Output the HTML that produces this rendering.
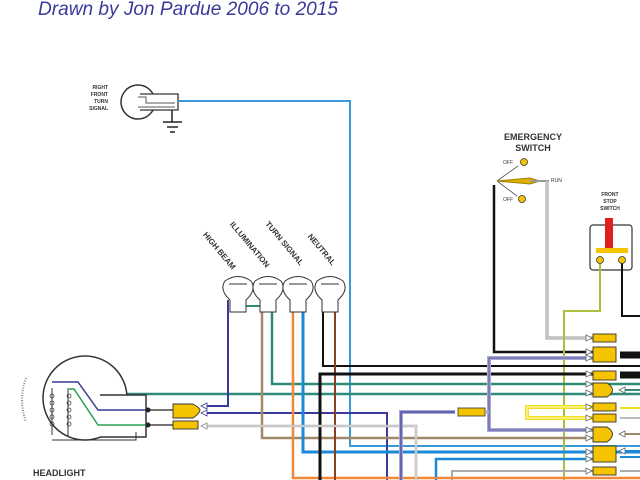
<!DOCTYPE html>
<html><head><meta charset="utf-8"><style>
html,body{margin:0;padding:0;background:#fff;width:640px;height:480px;overflow:hidden}
svg{display:block}
text{font-family:"Liberation Sans",sans-serif}
</style></head><body>
<svg width="640" height="480" viewBox="0 0 640 480" xmlns="http://www.w3.org/2000/svg">
<text x="38" y="15" font-size="19" font-style="italic" fill="#3a3a9a" textLength="300" lengthAdjust="spacingAndGlyphs">Drawn by Jon Pardue 2006 to 2015</text>

<!-- right front turn signal -->
<text font-size="5" font-weight="bold" fill="#333" text-anchor="end"><tspan x="108" y="89">RIGHT</tspan><tspan x="108" y="96">FRONT</tspan><tspan x="108" y="103">TURN</tspan><tspan x="108" y="110">SIGNAL</tspan></text>
<circle cx="138" cy="102" r="17" fill="#fff" stroke="#333" stroke-width="1.5"/>
<rect x="138" y="94" width="40" height="16" fill="#fff" stroke="none"/>
<path d="M140,94 H178 V110 H140" fill="none" stroke="#333" stroke-width="1.3"/>
<path d="M138,97 H146 V103 H175 M138,107 H175" fill="none" stroke="#555" stroke-width="1"/>
<path d="M172,110 V122 M163,122 H182 M167,127 H178 M170,132 H175" stroke="#222" stroke-width="1.5"/>
<path d="M178,101 H350 V446 H640" fill="none" stroke="#3a9ad8" stroke-width="2"/>

<!-- emergency switch -->
<text font-size="9" font-weight="bold" fill="#333" text-anchor="middle"><tspan x="533" y="140">EMERGENCY</tspan><tspan x="533" y="151">SWITCH</tspan></text>
<text font-size="5" fill="#333" x="503" y="164">OFF</text>
<text font-size="5" fill="#333" x="503" y="201">OFF</text>
<text font-size="5" fill="#333" x="551" y="182">RUN</text>
<circle cx="524" cy="162" r="3.5" fill="#f5c400" stroke="#333" stroke-width="0.8"/>
<circle cx="522" cy="199" r="3.5" fill="#f5c400" stroke="#333" stroke-width="0.8"/>
<path d="M497,181 L518,166 M497,181 L517,196" stroke="#555" stroke-width="0.8"/>
<path d="M497,181 L530,178 L540,181 L530,184 Z" fill="#e0b000" stroke="#a08000" stroke-width="1"/>
<path d="M530,181 H549" stroke="#999" stroke-width="2"/>
<path d="M547,181 V338 H593" fill="none" stroke="#999" stroke-width="3"/>
<path d="M547,181 V338 H593" fill="none" stroke="#eee" stroke-width="1"/>
<path d="M494,185 V352 H593" fill="none" stroke="#111" stroke-width="2.5"/>

<!-- front stop switch -->
<text font-size="5" font-weight="bold" fill="#333" text-anchor="middle"><tspan x="610" y="196">FRONT</tspan><tspan x="610" y="203">STOP</tspan><tspan x="610" y="210">SWITCH</tspan></text>
<rect x="590" y="225" width="42" height="45" rx="3" fill="#fff" stroke="#333" stroke-width="1.2"/>
<rect x="605" y="218" width="8" height="30" fill="#e02020"/>
<rect x="596" y="248" width="32" height="5" fill="#f5c400"/>
<path d="M600,262 V311 H564 V480" fill="none" stroke="#7ab040" stroke-width="2"/>
<path d="M600,262 V311 H564 V480" fill="none" stroke="#f0e040" stroke-width="0.7"/>
<path d="M622,262 V316 H640" fill="none" stroke="#111" stroke-width="2"/>
<circle cx="600" cy="260" r="3.5" fill="#f5c400" stroke="#333" stroke-width="0.8"/>
<circle cx="622" cy="260" r="3.5" fill="#f5c400" stroke="#333" stroke-width="0.8"/>

<!-- bulb labels -->
<g font-size="8" font-weight="bold" fill="#333">
<text transform="translate(232,270) rotate(50)" text-anchor="end">HIGH BEAM</text>
<text transform="translate(266,268) rotate(50)" text-anchor="end">ILLUMINATION</text>
<text transform="translate(300,266) rotate(50)" text-anchor="end">TURN SIGNAL</text>
<text transform="translate(332,266) rotate(50)" text-anchor="end">NEUTRAL</text>
</g>

<!-- wires from bulbs -->
<path d="M272,300 V384 H640" fill="none" stroke="#2f8a78" stroke-width="2.5"/>
<path d="M120,394 H640" fill="none" stroke="#2f8a78" stroke-width="2.5"/>
<path d="M245,306 H262" stroke="#2f8a78" stroke-width="2"/>
<path d="M228,300 V406 H203" fill="none" stroke="#3a3a9a" stroke-width="2"/>
<path d="M203,413 H387 V480" fill="none" stroke="#3a3a9a" stroke-width="2"/>
<path d="M262,300 V438 H593" fill="none" stroke="#a08868" stroke-width="2.5"/>
<path d="M293,300 V478 H640" fill="none" stroke="#f08838" stroke-width="2.5"/>
<path d="M303,300 V452 H640" fill="none" stroke="#1a8ad8" stroke-width="3"/>
<path d="M323,300 V366 H640" fill="none" stroke="#111" stroke-width="2"/>
<path d="M335,300 V480" fill="none" stroke="#8a4020" stroke-width="2"/>
<path d="M320,480 V374 H593" fill="none" stroke="#111" stroke-width="3"/>
<path d="M620,375 H640 M620,355 H640" stroke="#111" stroke-width="7"/>
<path d="M203,426 H416 V480" fill="none" stroke="#aaa" stroke-width="2.5"/>
<path d="M203,426 H416 V480" fill="none" stroke="#fff" stroke-width="0.8"/>
<path d="M620,390 H640" stroke="#2f8a78" stroke-width="2"/>
<path d="M436,480 V459 H593" fill="none" stroke="#1a8ad8" stroke-width="2.5"/>
<path d="M452,480 V471 H593 M620,471 H640" fill="none" stroke="#aaa" stroke-width="2"/>
<path d="M620,418 H640" stroke="#bbb" stroke-width="2"/>
<path d="M620,408 H640" stroke="#f0e020" stroke-width="2"/>
<path d="M620,434 H640" stroke="#a08868" stroke-width="2"/>
<path d="M620,451 H640 M620,457 H640" stroke="#1a8ad8" stroke-width="2"/>

<!-- lavender bus -->
<path d="M593,358 H489 V430 H593" fill="none" stroke="#a8a8d0" stroke-width="4"/>
<path d="M593,358 H489 V430 H593" fill="none" stroke="#3a3a9a" stroke-width="0.8"/>
<path d="M401,480 V412 H455" fill="none" stroke="#a8a8d0" stroke-width="4"/>
<path d="M401,480 V412 H455" fill="none" stroke="#3a3a9a" stroke-width="1.2"/>
<rect x="458" y="408" width="27" height="8" fill="#f5c400" stroke="#333" stroke-width="0.8"/>
<path d="M485,412 H489" stroke="#a8a8d0" stroke-width="3"/>

<!-- yellow loop -->
<path d="M593,407 H527 V418 H593" fill="none" stroke="#f0e020" stroke-width="4"/>
<path d="M593,407 H527 V418 H593" fill="none" stroke="#fffbd0" stroke-width="1"/>

<!-- right connectors -->
<g fill="#f5c400" stroke="#333" stroke-width="0.9">
<rect x="593" y="334" width="23" height="8"/>
<rect x="593" y="347" width="23" height="15"/>
<rect x="593" y="371" width="23" height="9"/>
<path d="M593,383 H607 Q618,390 607,397 H593 Z"/>
<rect x="593" y="403" width="23" height="8"/>
<rect x="593" y="414" width="23" height="8"/>
<path d="M593,427 H607 Q618,434 607,442 H593 Z"/>
<rect x="593" y="446" width="23" height="16"/>
<rect x="593" y="467" width="23" height="8"/>
</g>
<g fill="#fff" stroke="#666" stroke-width="0.8">
<path d="M586,335 L592,338 L586,341Z"/><path d="M586,349 L592,352 L586,355Z"/><path d="M586,355 L592,358 L586,361Z"/>
<path d="M586,371 L592,374 L586,377Z"/><path d="M586,381 L592,384 L586,387Z"/><path d="M586,390 L592,393 L586,396Z"/>
<path d="M586,404 L592,407 L586,410Z"/><path d="M586,415 L592,418 L586,421Z"/>
<path d="M586,427 L592,430 L586,433Z"/><path d="M586,435 L592,438 L586,441Z"/>
<path d="M586,449 L592,452 L586,455Z"/><path d="M586,456 L592,459 L586,462Z"/><path d="M586,468 L592,471 L586,474Z"/>
<path d="M625,387 L619,390 L625,393Z"/><path d="M625,431 L619,434 L625,437Z"/><path d="M625,448 L619,451 L625,454Z"/>
</g>
<path d="M640,478 H420" stroke="#f08838" stroke-width="2"/>

<!-- bulbs -->
<g fill="#fff" stroke="#333" stroke-width="1">
<path d="M230,300 Q219,290 225,281 Q238,272 251,281 Q257,290 246,300 V312 H230 Z"/>
<path d="M260,300 Q249,290 255,281 Q268,272 281,281 Q287,290 276,300 V312 H260 Z"/>
<path d="M290,300 Q279,290 285,281 Q298,272 311,281 Q317,290 306,300 V312 H290 Z"/>
<path d="M322,300 Q311,290 317,281 Q330,272 343,281 Q349,290 338,300 V312 H322 Z"/>
</g>
<g stroke="#999" stroke-width="2"><path d="M229,284 H247 M259,284 H277 M289,284 H307 M321,284 H339"/></g>

<!-- headlight -->
<circle cx="85" cy="398" r="42" fill="#fff" stroke="#333" stroke-width="1.5"/>
<rect x="100" y="395" width="47" height="42" fill="#fff"/>
<path d="M100,395 H146 V437 H100" fill="none" stroke="#333" stroke-width="1.5"/>
<path d="M52,388 V435 M68,388 V437 M52,440 H136 V432" fill="none" stroke="#333" stroke-width="1"/>
<path d="M52,382 H78 L98,410 H148" fill="none" stroke="#3a3a9a" stroke-width="1.5"/>
<path d="M69,389 H74 L98,425 H148" fill="none" stroke="#2aa050" stroke-width="1.5"/>
<g fill="none" stroke="#444" stroke-width="0.8">
<circle cx="52" cy="396" r="2"/><circle cx="52" cy="403" r="2"/><circle cx="52" cy="410" r="2"/><circle cx="52" cy="417" r="2"/><circle cx="52" cy="424" r="2"/>
<circle cx="69" cy="396" r="2"/><circle cx="69" cy="403" r="2"/><circle cx="69" cy="410" r="2"/><circle cx="69" cy="417" r="2"/><circle cx="69" cy="424" r="2"/>
</g>
<path d="M26,378 Q18,400 26,422" fill="none" stroke="#888" stroke-width="2" stroke-dasharray="1,1.5"/>
<circle cx="148" cy="410" r="2.5" fill="#222"/><circle cx="148" cy="425" r="2.5" fill="#222"/>
<path d="M148,410 H173 M148,425 H173" stroke="#222" stroke-width="1.3"/>
<path d="M173,404 H193 Q200,408 200,410 Q200,413 193,418 H173 Z" fill="#f5c400" stroke="#333" stroke-width="0.9"/>
<rect x="173" y="421" width="25" height="8" fill="#f5c400" stroke="#333" stroke-width="0.9"/>
<g fill="#fff" stroke="#3a3a9a" stroke-width="0.8"><path d="M207,403 L201,406 L207,409Z"/><path d="M207,410 L201,413 L207,416Z"/></g>
<path d="M207,423 L201,426 L207,429Z" fill="#fff" stroke="#888" stroke-width="0.8"/>
<text x="33" y="476" font-size="9" font-weight="bold" fill="#333">HEADLIGHT</text>
</svg>
</body></html>
